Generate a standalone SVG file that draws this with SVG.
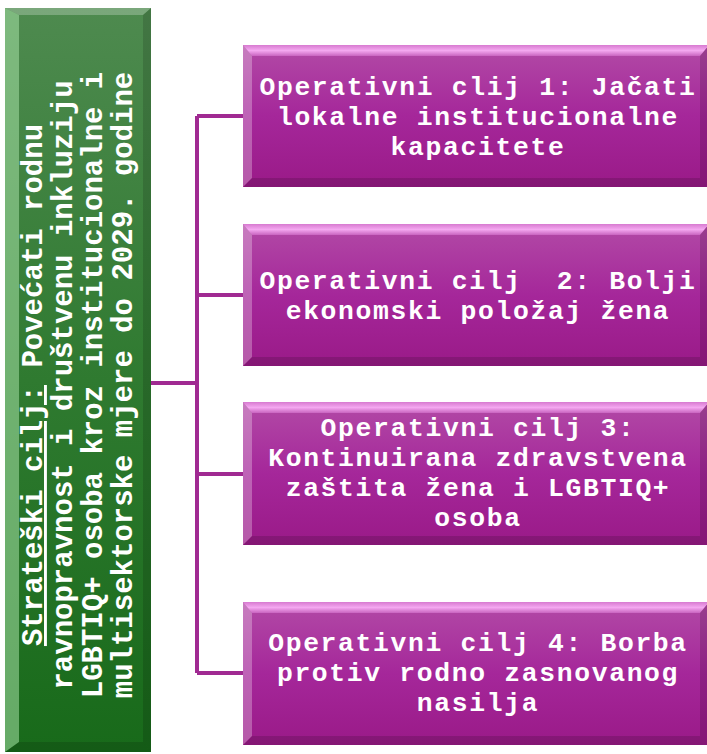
<svg xmlns="http://www.w3.org/2000/svg" width="707" height="754" viewBox="0 0 707 754">
<defs>
<linearGradient id="gGreen" x1="0" y1="0" x2="0" y2="1">
<stop offset="0" stop-color="#4e8a4f"/>
<stop offset="0.5" stop-color="#2f7a30"/>
<stop offset="1" stop-color="#186a1a"/>
</linearGradient>
<linearGradient id="gPurple" x1="0" y1="0" x2="0" y2="1">
<stop offset="0" stop-color="#b24aa6"/>
<stop offset="0.5" stop-color="#a5279a"/>
<stop offset="1" stop-color="#9a1a88"/>
</linearGradient>
<linearGradient id="gPurpleTop" x1="0" y1="0" x2="0" y2="1">
<stop offset="0" stop-color="#d77ad0"/>
<stop offset="0.5" stop-color="#f4a8f0"/>
<stop offset="1" stop-color="#c964c0"/>
</linearGradient>
</defs>
<style>
.pt{font-family:"Liberation Mono","Courier New",monospace;font-weight:bold;font-size:26.4px;letter-spacing:1.65px;fill:#ffffff;text-anchor:middle}
.gt{font-family:"Liberation Mono","Courier New",monospace;font-weight:bold;font-size:29px;fill:#ffffff;text-anchor:middle}
.conn{stroke:#a02a92;stroke-width:4;fill:none}
.bl{fill:#ffffff;fill-opacity:0.28}
.bd{fill:#000000;fill-opacity:0.14}
</style>

<g id="connectors">
<path class="conn" d="M151 383 H197 M197 116 V673 M197 116 H243 M197 295 H243 M197 474 H243 M197 673 H243"/>
</g>

<g id="strategic">
<rect x="5" y="8" width="146" height="744" fill="url(#gGreen)"/>
<polygon points="5,8 151,8 143,15 19,15" fill="#ffffff" fill-opacity="0.25"/>
<polygon points="5,8 19,15 19,742 5,752" fill="#a6e0a6" fill-opacity="0.55"/>
<polygon points="151,8 151,752 143,742 143,15" class="bd"/>
<polygon points="5,752 151,752 143,742 19,742" class="bd"/>
<text class="gt" transform="translate(0,385) rotate(-90)"><tspan x="0" y="42"><tspan text-decoration="underline">Strateški cilj:</tspan> Povećati rodnu</tspan><tspan x="0" y="72">ravnopravnost i društvenu inkluziju</tspan><tspan x="0" y="102">LGBTIQ+ osoba kroz institucionalne i</tspan><tspan x="0" y="132">multisektorske mjere do 2029. godine</tspan></text>
</g>

<g id="op1">
<rect x="243" y="45" width="466" height="142" fill="url(#gPurple)"/>
<polygon points="243,45 709,45 700,56 252,56" fill="url(#gPurpleTop)"/>
<polygon points="243,45 252,56 252,178 243,187" class="bl"/>
<polygon points="709,45 709,187 700,178 700,56" class="bd"/>
<polygon points="243,187 709,187 700,178 252,178" class="bd"/>
<text class="pt"><tspan x="478" y="95">Operativni clij 1: Jačati</tspan><tspan x="478" y="125">lokalne institucionalne</tspan><tspan x="478" y="155">kapacitete</tspan></text>
</g>

<g id="op2">
<rect x="243" y="224" width="466" height="142" fill="url(#gPurple)"/>
<polygon points="243,224 709,224 700,235 252,235" fill="url(#gPurpleTop)"/>
<polygon points="243,224 252,235 252,357 243,366" class="bl"/>
<polygon points="709,224 709,366 700,357 700,235" class="bd"/>
<polygon points="243,366 709,366 700,357 252,357" class="bd"/>
<text class="pt" xml:space="preserve"><tspan x="478" y="288.5">Operativni cilj  2: Bolji</tspan><tspan x="478" y="318.5">ekonomski položaj žena</tspan></text>
</g>

<g id="op3">
<rect x="243" y="402" width="466" height="143" fill="url(#gPurple)"/>
<polygon points="243,402 709,402 700,413 252,413" fill="url(#gPurpleTop)"/>
<polygon points="243,402 252,413 252,536 243,545" class="bl"/>
<polygon points="709,402 709,545 700,536 700,413" class="bd"/>
<polygon points="243,545 709,545 700,536 252,536" class="bd"/>
<text class="pt"><tspan x="478" y="435.5">Operativni cilj 3:</tspan><tspan x="478" y="465.5">Kontinuirana zdravstvena</tspan><tspan x="478" y="495.5">zaštita žena i LGBTIQ+</tspan><tspan x="478" y="525.5">osoba</tspan></text>
</g>

<g id="op4">
<rect x="243" y="602" width="466" height="143" fill="url(#gPurple)"/>
<polygon points="243,602 709,602 700,613 252,613" fill="url(#gPurpleTop)"/>
<polygon points="243,602 252,613 252,736 243,745" class="bl"/>
<polygon points="709,602 709,745 700,736 700,613" class="bd"/>
<polygon points="243,745 709,745 700,736 252,736" class="bd"/>
<text class="pt"><tspan x="478" y="651">Operativni cilj 4: Borba</tspan><tspan x="478" y="681">protiv rodno zasnovanog</tspan><tspan x="478" y="711">nasilja</tspan></text>
</g>
</svg>
